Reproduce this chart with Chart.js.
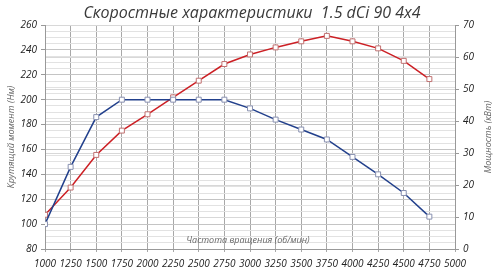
<!DOCTYPE html>
<html><head><meta charset="utf-8">
<script src="https://cdn.jsdelivr.net/npm/chart.js@4/dist/chart.umd.min.js"></script>
<style>html,body{margin:0;padding:0;background:#fff}#wrap{width:500px;height:274px;position:relative}</style>
</head><body><div id="wrap"><canvas id="c" width="500" height="274"></canvas></div>
<script>
const title = "Скоростные характеристики  1.5 dCi 90 4x4";
const xTitle = "Частота вращения (об/мин)";
const yTitle = "Крутящий момент (Нм)";
const y1Title = "Мощность (кВт)";
const rpm = [1000,1250,1500,1750,2000,2250,2500,2750,3000,3250,3500,3750,4000,4250,4500,4750];
const torque = [100,146,186,200,200,200,200,200,193,184,176,168,154,140,125,106];
const power = [10.7,19.2,29.4,37,42.1,47.4,52.6,57.8,60.8,63,64.9,66.6,64.9,62.7,58.8,53.1];

const textPlugin = {
  id:'texts',
  afterDraw(chart){
    const ctx = chart.ctx;
    ctx.save();
    ctx.fillStyle = '#3a3a3a';
    ctx.font = 'italic 16px "Open Sans", "DejaVu Sans", sans-serif';
    ctx.textAlign = 'center'; ctx.textBaseline = 'middle';
    ctx.fillText(title, 252, 13);
    ctx.fillStyle = '#666';
    ctx.font = 'italic 9px "Open Sans", sans-serif';
    ctx.fillText(xTitle, 248, 240);
    ctx.save(); ctx.translate(11, 137); ctx.rotate(-Math.PI/2);
    ctx.fillText(yTitle, 0, 0); ctx.restore();
    ctx.save(); ctx.translate(488, 137); ctx.rotate(-Math.PI/2);
    ctx.fillText(y1Title, 0, 0); ctx.restore();
    ctx.restore();
  }
};

const tickFont = {family:'"Open Sans", sans-serif', size:10, style:'italic'};
new Chart(document.getElementById('c'), {
  type:'line',
  data:{datasets:[
    {label:'torque', yAxisID:'y', data: rpm.map((r,i)=>({x:r,y:torque[i]})),
     borderColor:'#22408c', backgroundColor:'#fff', borderWidth:1.5,
     pointStyle:'rect', pointRadius:3.5, pointBorderWidth:1, pointBorderColor:'#8890b0', pointBackgroundColor:'#fff', tension:0},
    {label:'power', yAxisID:'y1', data: rpm.map((r,i)=>({x:r,y:power[i]})),
     borderColor:'#cc1f24', backgroundColor:'#fff', borderWidth:1.5,
     pointStyle:'rect', pointRadius:3.5, pointBorderWidth:1, pointBorderColor:'#c07070', pointBackgroundColor:'#fff', tension:0}
  ]},
  options:{
    responsive:false, animation:false,
    layout:{padding:{top:25,left:0,right:0,bottom:0}},
    plugins:{legend:{display:false}, tooltip:{enabled:false}, title:{display:false}},
    scales:{
      x:{type:'linear', min:1000, max:5000,
         ticks:{stepSize:250, color:'#222', font:tickFont, maxRotation:0, autoSkip:false, padding:6,
                callback:v=> String(v)},
         grid:{color:'#a8a8a8', lineWidth:1, tickLength:3, tickColor:'#a8a8a8'},
         border:{color:'#999'},
         afterFit(s){s.height=25;}},
      y:{position:'left', min:80, max:260,
         ticks:{stepSize:5, autoSkip:false, color:'#222', font:tickFont, padding:4,
                callback:v=> v%20===0 ? String(v) : ''},
         grid:{color:c=> c.tick && c.tick.value%20===0 ? '#c4c4c4' : '#e2e2e2',
               tickColor:c=> c.tick && c.tick.value%20===0 ? '#999' : 'rgba(0,0,0,0)', tickLength:4},
         border:{color:'#999'},
         afterFit(s){s.width=45;}},
      y1:{position:'right', min:0, max:70,
         ticks:{stepSize:10, autoSkip:false, color:'#222', font:tickFont, padding:4},
         grid:{drawOnChartArea:true, color:'#d8d8d8', tickColor:'#999', tickLength:4},
         border:{color:'#999'},
         afterFit(s){s.width=45;}}
    }
  },
  plugins:[textPlugin]
});
</script></body></html>
